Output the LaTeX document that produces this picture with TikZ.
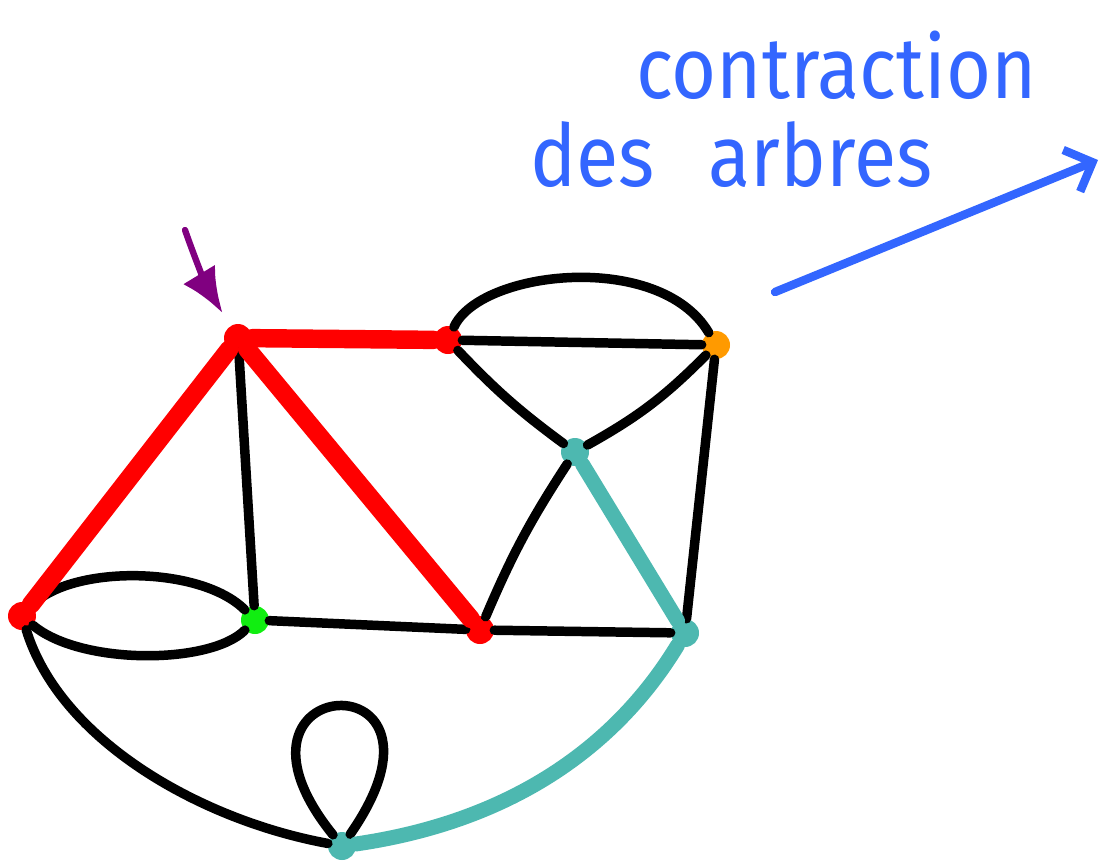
\documentclass[tikz,border=0pt]{standalone}
\usepackage{fontspec}
\setmainfont{Fira Sans}
\usetikzlibrary{arrows.meta,positioning}
\definecolor{dotred}{HTML}{FF0000}
\definecolor{dotgreen}{HTML}{11EE11}
\definecolor{dotorange}{HTML}{FF9A00}
\definecolor{treeteal}{HTML}{4DB8B0}
\definecolor{markpurple}{HTML}{800080}
\definecolor{noteblue}{HTML}{3366FF}

\begin{document}
\begin{tikzpicture}[x=0.02cm, y=-0.02cm, line cap=round, line join=round,
    vtx/.style={circle, fill=#1, inner sep=0pt, minimum size=0.56cm},
    edge/.style={black, line width=5.4pt},
    redtree/.style={dotred, line width=10.5pt},
    tealtree/.style={treeteal, line width=8.5pt},
    note/.style={noteblue, font=\fontsize{44}{50}\selectfont, yscale=1.12, transform shape, inner sep=0pt, text depth=0pt}]
    \useasboundingbox (0,0) rectangle (1104,863);
    % vertices
    \node[vtx=dotred] (A) at (238,338) {};
    \node[vtx=dotred] (B) at (448,340) {};
    \node[vtx=dotorange] (C) at (716,345) {};
    \node[vtx=treeteal] (D) at (575,452) {};
    \node[vtx=dotred] (E) at (22,616) {};
    \node[vtx=dotgreen] (F) at (255,620) {};
    \node[vtx=dotred] (G) at (480,630) {};
    \node[vtx=treeteal] (H) at (685,633) {};
    \node[vtx=treeteal] (I) at (342,846) {};
    % black edges
    \draw[edge] (B) .. controls (480,270) and (660,250) .. (C);
    \draw[edge] (B) -- (C);
    \draw[edge] (B) to[bend right=5] (D);
    \draw[edge] (C) to[bend left=8] (D);
    \draw[edge] (C) -- (H);
    \draw[edge] (D) to[bend right=5] (G);
    \draw[edge] (A) -- (F);
    \draw[edge] (F) -- (G);
    \draw[edge] (G) -- (H);
    \draw[edge] (E) .. controls (70,565) and (200,565) .. (F);
    \draw[edge] (E) .. controls (80,665) and (210,665) .. (F);
    \draw[edge] (E) .. controls (60,740) and (200,820) .. (I);
    \draw[edge] (I) .. controls (200,670) and (475,655) .. (I);
    % spanning tree
    \draw[redtree] (A) -- (B);
    \draw[redtree] (A) -- (E);
    \draw[redtree] (A) -- (G);
    \draw[tealtree] (D) -- (H);
    \draw[tealtree] (I) .. controls (520,820) and (620,740) .. (H);
    % root marker
    \coordinate (p0) at (185,230);
    \draw[markpurple, line width=3.6pt, -{Latex[length=0.9cm, width=0.75cm]}, shorten >=0.3cm] (p0) to[bend right=6] (A);
    % caption
    \node[note, anchor=base west] (t1) at (636,98) {contraction};
    \node[note, anchor=base west] (t2) at (530,186) {des\hspace{0.7em}arbres};
    \coordinate (q0) at (775,292);
    \coordinate (q1) at (1098,160);
    \draw[noteblue, line width=4.8pt, -{Straight Barb[length=0.45cm, width=0.9cm]}] (q0) -- (q1);
\end{tikzpicture}
\end{document}
